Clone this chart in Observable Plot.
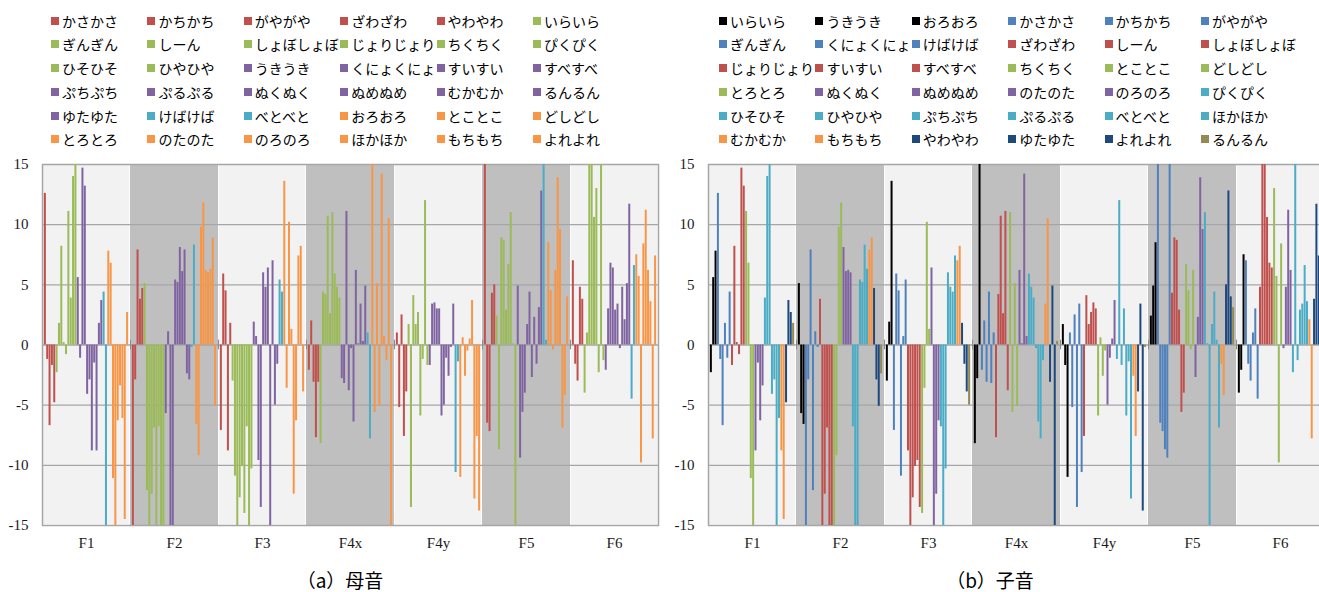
<!DOCTYPE html>
<html><head><meta charset="utf-8">
<script src="https://cdn.jsdelivr.net/npm/d3@7"></script>
<script src="https://cdn.jsdelivr.net/npm/@observablehq/plot@0.6"></script>
<style>
html,body{margin:0;padding:0;background:#fff;overflow:hidden;width:1319px;height:592px;}
#root{position:relative;width:1319px;height:592px;overflow:hidden;}
.sw{position:absolute;width:8px;height:8px;}
.lt{position:absolute;font-family:"Noto Sans CJK JP","Noto Sans",sans-serif;font-size:14px;line-height:16px;color:#000;white-space:nowrap;}
.cap{position:absolute;top:566px;font-family:"Noto Sans CJK JP",sans-serif;font-size:19px;line-height:28px;color:#000;text-align:center;}
.panel{position:absolute;top:150px;}
</style></head><body><div id="root"></div>
<script>
// ---- data ----
const formants = ["F1","F2","F3","F4x","F4y","F5","F6"];

// (a) vowel ordering (legend order) and clusters
const vowelWords = ["かさかさ","かちかち","がやがや","ざわざわ","やわやわ","いらいら","ぎんぎん","しーん","しょぼしょぼ","じょりじょり","ちくちく","ぴくぴく","ひそひそ","ひやひや","うきうき","くにょくにょ","すいすい","すべすべ","ぷちぷち","ぷるぷる","ぬくぬく","ぬめぬめ","むかむか","るんるん","ゆたゆた","けばけば","べとべと","おろおろ","とことこ","どしどし","とろとろ","のたのた","のろのろ","ほかほか","もちもち","よれよれ"];
const vowelCluster = [0,0,0,0,0, 1,1,1,1,1,1,1,1,1, 2,2,2,2,2,2,2,2,2,2,2, 3,3, 4,4,4,4,4,4,4,4,4];

// (b) consonant ordering (legend order) and clusters
const consonantWords = ["いらいら","うきうき","おろおろ","かさかさ","かちかち","がやがや","ぎんぎん","くにょくにょ","けばけば","ざわざわ","しーん","しょぼしょぼ","じょりじょり","すいすい","すべすべ","ちくちく","とことこ","どしどし","とろとろ","ぬくぬく","ぬめぬめ","のたのた","のろのろ","ぴくぴく","ひそひそ","ひやひや","ぷちぷち","ぷるぷる","べとべと","ほかほか","むかむか","もちもち","やわやわ","ゆたゆた","よれよれ","るんるん"];
const consonantCluster = [0,0,0, 1,1,1,1,1,1, 2,2,2,2,2,2, 3,3,3,3, 4,4,4,4, 5,5,5,5,5,5,5, 6,6, 7,7,7, 8];

// values per formant, in vowelWords order
const vF1  = [12.6,-1.2,-6.7,-1.7,-4.8,-2.3,1.8,8.2,0.2,-0.8,11.1,3.9,14.0,15,5.6,-1.1,14.7,13.2,-4.1,-2.9,-8.8,-1.5,-8.8,1.8,3.7,4.4,-15,7.8,6.8,-11.1,-15,-6.3,-3.4,-6.1,-14.5,2.7];
const vF2  = [-15,-2.9,7.9,3.8,4.7,5.1,-12.1,-15,-12.4,-6.9,-15,-6.8,-15,-15,-5.7,1.1,-15,-15,5.4,5.2,8.1,6.1,7.9,-2.4,-2.9,-0.2,8.3,-6.6,-9.2,9.8,11.8,6.2,6.0,6.3,8.9,-5.1];
const vF3  = [-7.1,5.9,4.5,-8.8,1.8,-3.0,-10.9,-15,-12.7,-10.1,-14.0,-6.8,-15,-10.3,1.9,0.7,-9.6,-13.5,6.0,4.8,6.4,-15,7.0,-5.0,-1.6,5.4,4.4,13.6,-3.6,10.2,1.3,-12.4,-6.3,7.4,8.2,-3.9];
const vF4x = [-2.1,2.0,-3.1,-7.7,-3.1,-8.2,4.4,4.2,10.7,2.6,11.0,5.9,4.8,3.9,-2.8,-3.2,11.1,-3.8,-0.3,-6.4,6.2,0.1,3.4,0.3,4.9,1.0,-7.8,15,-5.6,5.1,-5.1,14.2,0.7,-1.3,10.5,-15];
const vF4y = [1.0,-5.2,2.5,-7.6,-3.9,1.7,-13.5,4.1,1.7,2.7,-5.9,-1.2,12.0,-1.7,-1.7,3.4,3.5,3.0,3.0,-5.9,-5.0,-1.1,-2.6,-0.2,3.4,-10.6,-1.4,-11.0,0.6,-2.6,-0.5,0.5,3.7,-12.8,-7.6,-13.8];
const vF5  = [15,-6.5,-7.2,4.3,5.0,2.4,-8.7,8.9,8.7,2.9,6.7,11.0,0.1,-15,4.9,-9.4,-5.6,-4.0,1.7,4.4,-2.7,2.3,-1.6,3.1,12.8,15,0.4,8.5,4.5,-0.4,6.2,13.9,9.6,-6.9,-4.2,4.0];
const vF6  = [7.0,-1.6,-3.0,4.8,3.8,-4.0,1.0,15,15,10.6,13.0,-2.3,15,-1.3,-2.1,3.0,6.8,6.4,2.9,3.4,-0.3,4.8,2.1,5.1,11.7,-4.5,6.6,7.5,5.7,-9.8,8.4,11.2,6.2,3.6,-7.8,7.4];
const values = [vF1, vF2, vF3, vF4x, vF4y, vF5, vF6];

const yTicks = [-15,-10,-5,0,5,10,15];

// ---- styles ----
const vowelPalette = ["#C0504D","#9BBB59","#8064A2","#4BACC6","#F79646"];
const consonantPalette = ["#000000","#4F81BD","#C0504D","#9BBB59","#8064A2","#4BACC6","#F79646","#1F497D","#948A54"];
const LIGHT = "#F2F2F2", DARK = "#BFBFBF", GRID = "#A6A6A6";
const GW = 37.45;                // slots per formant group
const OFF = (GW - 36) / 2;

const root = document.getElementById("root");

function buildRows(order, cluster, palette) {
  const rows = [];
  formants.forEach((f, g) => {
    order.forEach((w, i) => {
      const k = vowelWords.indexOf(w);
      rows.push({g, i, word: w, v: values[g][k], c: palette[cluster[i]]});
    });
  });
  return rows;
}

function panel(order, cluster, palette, left, width, ml, mr) {
  const rows = buildRows(order, cluster, palette);
  const groups = formants.map((f, g) => ({f, g}));
  const svg = Plot.plot({
    width, height: 415,
    marginLeft: ml, marginRight: mr, marginTop: 14, marginBottom: 40,
    x: {domain: [0, 7 * GW], ticks: formants.map((f, g) => (g + 0.5) * GW),
        tickFormat: d => formants[Math.round(d / GW - 0.5)], tickSize: 0, tickPadding: 12, label: null},
    y: {domain: [-15, 15], ticks: yTicks, tickFormat: d => String(d), tickSize: 0, tickPadding: 14, label: null},
    color: {type: "identity"},
    style: {fontFamily: "'Liberation Serif','Times New Roman',serif", fontSize: "15px", color: "#1a1a1a", background: "transparent", overflow: "visible"},
    marks: [
      Plot.rect(groups.filter(d => d.g % 2 === 0), {x1: d => d.g * GW, x2: d => (d.g + 1) * GW, y1: -15, y2: 15, fill: LIGHT, stroke: "#ffffff", strokeWidth: 1.5}),
      Plot.rect(groups.filter(d => d.g % 2 === 1), {x1: d => d.g * GW, x2: d => (d.g + 1) * GW, y1: -15, y2: 15, fill: DARK}),
      Plot.frame({stroke: GRID, strokeWidth: 1.5}),
      Plot.ruleY([-10, -5, 0, 5, 10], {stroke: GRID, strokeWidth: 1.4}),
      Plot.ruleX(d3.range(1, 7), {x: g => g * GW, y1: -0.4, y2: 0.4, stroke: "#8c8c8c", strokeWidth: 1}),
      Plot.rect(rows, {x1: d => d.g * GW + OFF + d.i, x2: d => d.g * GW + OFF + d.i + 1,
        y1: 0, y2: "v", fill: "c", insetLeft: 0.15, insetRight: 0.2, clip: true})
    ]
  });
  svg.classList.add("panel");
  svg.style.left = left + "px";
  root.appendChild(svg);
}

function legend(order, cluster, palette, x0) {
  order.forEach((w, k) => {
    const col = k % 6, row = Math.floor(k / 6);
    const x = x0 + 96.4 * col, yc = 20.5 + 23.75 * row;
    const sw = document.createElement("div");
    sw.className = "sw";
    sw.style.left = x + "px"; sw.style.top = (yc - 4) + "px";
    sw.style.background = palette[cluster[k]];
    root.appendChild(sw);
    const t = document.createElement("div");
    t.className = "lt";
    t.style.left = (x + 11) + "px"; t.style.top = (yc - 8) + "px";
    t.textContent = w;
    root.appendChild(t);
  });
}

legend(vowelWords, vowelCluster, vowelPalette, 51);
legend(consonantWords, consonantCluster, consonantPalette, 719);
panel(vowelWords, vowelCluster, vowelPalette, 0, 660, 42, 2);
panel(consonantWords, consonantCluster, consonantPalette, 660, 670, 48, 6);

function caption(text, left, width) {
  const c = document.createElement("div");
  c.className = "cap";
  c.style.left = left + "px"; c.style.width = width + "px";
  c.textContent = text;
  root.appendChild(c);
}
caption("（a）母音", 0, 680);
caption("（b）子音", 660, 660);
</script></body></html>
